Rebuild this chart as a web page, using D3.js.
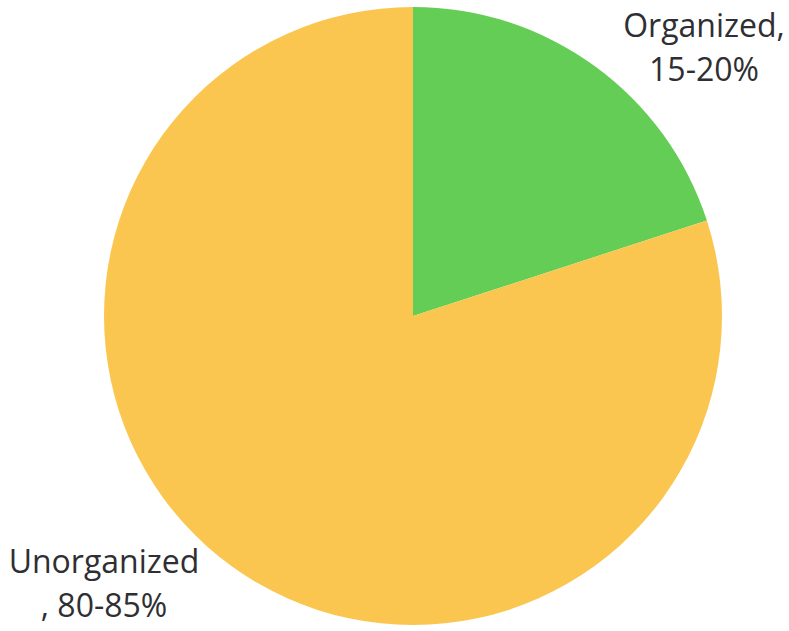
<!DOCTYPE html>
<html>
<head>
<meta charset="utf-8">
<script src="https://cdn.jsdelivr.net/npm/d3@7"></script>
<style>
html,body{margin:0;padding:0;background:#fff;}
svg{display:block;}
</style>
</head>
<body>
<svg id="chart" width="789" height="631"></svg>
<script>
const categories = ["Organized", "Unorganized"];
const values = [20, 80];
const labelLines = [["Organized,", "15-20%"], ["Unorganized", ", 80-85%"]];
const colors = ["#63CD55", "#FAC64F"];

const svg = d3.select("#chart");
const cx = 413, cy = 316, r = 309;

const pie = d3.pie().sort(null).value(d => d)(values);
const arc = d3.arc().innerRadius(0).outerRadius(r);
const color = d3.scaleOrdinal().domain(categories).range(colors);

const g = svg.append("g").attr("transform", `translate(${cx},${cy})`);
g.selectAll("path").data(pie).enter().append("path")
  .attr("d", arc)
  .attr("fill", (d, i) => color(categories[i]));

const labelPos = [{x: 704, y: 37}, {x: 104, y: 573}];
const lineH = 44;
labelLines.forEach((lines, i) => {
  const t = svg.append("text")
    .attr("x", labelPos[i].x).attr("y", labelPos[i].y)
    .attr("text-anchor", "middle")
    .attr("font-family", "'Open Sans', sans-serif")
    .attr("font-size", 32)
    .attr("fill", "#2f2f33");
  lines.forEach((s, j) => {
    t.append("tspan").attr("x", labelPos[i].x).attr("y", labelPos[i].y + j * lineH).text(s);
  });
});
</script>
</body>
</html>
